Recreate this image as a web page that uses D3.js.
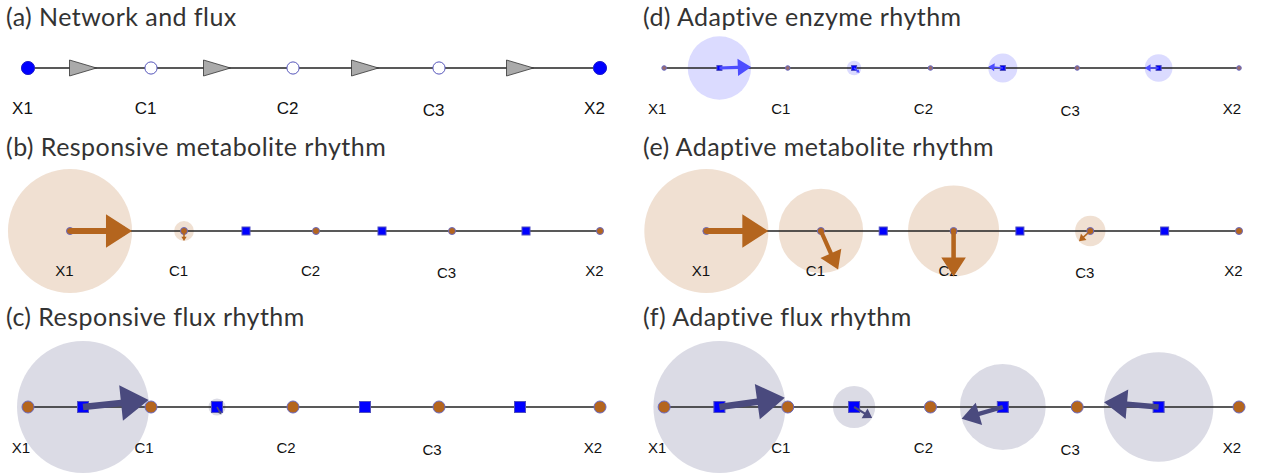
<!DOCTYPE html>
<html>
<head>
<meta charset="utf-8">
<script src="https://cdn.jsdelivr.net/npm/d3@7"></script>
<style>
body { margin: 0; background: #fff; }
</style>
</head>
<body>
<script>
// Node names of the linear pathway X1 -> C1 -> C2 -> C3 -> X2
var metabolites = ["X1", "C1", "C2", "C3", "X2"];
var reactions = ["R1", "R2", "R3", "R4"];

// Layout coordinates along the pathway (two layouts were used in the figure)
var layoutA_met = [28, 151, 293, 439, 600];
var layoutA_rxn = [83, 217, 365, 520];
var layoutB_met = [70, 184, 316, 452, 600];
var layoutB_rxn = [120, 246, 382, 526];

var titles = [
  "(a) Network and flux",
  "(b) Responsive metabolite rhythm",
  "(c) Responsive flux rhythm",
  "(d) Adaptive enzyme rhythm",
  "(e) Adaptive metabolite rhythm",
  "(f) Adaptive flux rhythm"
];

// Rhythm amplitude (relative) and phase (degrees, clockwise from east)
var b_amp = [0.94, 0.15, 0, 0, 0];
var b_phase = [0, 90, 0, 0, 0];
var c_amp = [1.0, 0.13, 0, 0];
var c_phase = [-6, 60, 0, 0];
var d_amp = [0.48, 0.11, 0.22, 0.21];
var d_phase = [-2, 40, 185, 180];
var e_amp = [0.94, 0.64, 0.69, 0.23, 0];
var e_phase = [0, 66, 90, 138, 0];
var f_amp = [1.0, 0.32, 0.65, 0.83];
var f_phase = [-8, 31, 164, 185];

var W = 1265, H = 475;
var svg = d3.select("body").append("svg").attr("width", W).attr("height", H);

// one x scale per column, one line position per row
var xScales = [
  d3.scaleLinear().domain([0, 600]).range([0, 600]),
  d3.scaleLinear().domain([0, 600]).range([636, 1239])
];
var rowY = [68, 231, 407];
var rScale = d3.scaleLinear().domain([0, 1]).range([0, 66]);

var brown = "#b4651e", slate = "#4a4a7e", blue = "#4d4dff";

var panels = [
  {title: titles[0], col: 0, row: 0, met: layoutA_met, rxn: layoutA_rxn, network: true, labelDx: -5.5, fs: 17},
  {title: titles[1], col: 0, row: 1, met: layoutB_met, rxn: layoutB_rxn, on: "met", amp: b_amp, phase: b_phase, color: brown, mr: 3.5, sq: 8, labelDx: -5.5, fs: 15},
  {title: titles[2], col: 0, row: 2, met: layoutA_met, rxn: layoutA_rxn, on: "rxn", amp: c_amp, phase: c_phase, color: slate, mr: 6, sq: 11, labelDx: -7, fs: 15},
  {title: titles[3], col: 1, row: 0, met: layoutA_met, rxn: layoutA_rxn, on: "rxn", amp: d_amp, phase: d_phase, color: blue, mr: 2.3, sq: 5, labelDx: -7, fs: 15},
  {title: titles[4], col: 1, row: 1, met: layoutB_met, rxn: layoutB_rxn, on: "met", amp: e_amp, phase: e_phase, color: brown, mr: 3.5, sq: 8, labelDx: -5.5, fs: 15},
  {title: titles[5], col: 1, row: 2, met: layoutA_met, rxn: layoutA_rxn, on: "rxn", amp: f_amp, phase: f_phase, color: slate, mr: 6, sq: 11, labelDx: -7, fs: 15}
];

function arrowPath(L) {
  var w = Math.max(0.8, 0.05 * L), h = 0.42 * L, hw = 0.27 * L;
  return "M0," + (-w) + "L" + (L - h) + "," + (-w) + "L" + (L - h) + "," + (-hw) +
    "L" + L + ",0L" + (L - h) + "," + hw + "L" + (L - h) + "," + w + "L0," + w + "Z";
}

panels.forEach(function(p) {
  var x = xScales[p.col], y0 = rowY[p.row];
  var g = svg.append("g");
  var titleX = p.col === 0 ? 6 : 643;
  var titleY = [26, 156, 326][p.row];

  g.append("text")
    .attr("x", titleX).attr("y", titleY)
    .attr("font-family", "Lato, sans-serif")
    .attr("font-size", 25)
    .attr("letter-spacing", 0.45)
    .attr("fill", "#333")
    .text(p.title);

  var anchors = p.on === "met" ? p.met : p.rxn;

  // rhythm circles
  if (!p.network) {
    g.selectAll("circle.amp").data(p.amp).enter().append("circle")
      .attr("class", "amp")
      .attr("cx", function(d, i) { return x(anchors[i]); })
      .attr("cy", y0)
      .attr("r", function(d) { return rScale(d); })
      .attr("fill", p.color).attr("fill-opacity", 0.2);
  }

  // pathway line
  g.append("line")
    .attr("x1", x(p.met[0])).attr("x2", x(p.met[p.met.length - 1]))
    .attr("y1", y0).attr("y2", y0)
    .attr("stroke", "#222").attr("stroke-width", 1.4);

  // labels
  var labelY = y0 + [46, 45, 46][p.row];
  g.selectAll("text.lab").data(metabolites).enter().append("text")
    .attr("class", "lab")
    .attr("x", function(d, i) { return x(p.met[i]) + p.labelDx; })
    .attr("y", function(d) { return labelY + (d === "C3" ? 2 : 0); })
    .attr("text-anchor", "middle")
    .attr("font-family", "Liberation Sans, Arial, sans-serif")
    .attr("font-size", p.fs)
    .attr("fill", "#111")
    .text(function(d) { return d; });

  if (p.network) {
    // reaction triangles showing flux direction
    g.selectAll("path.tri").data(reactions).enter().append("path")
      .attr("class", "tri")
      .attr("d", function(d, i) {
        var cx = x(p.rxn[i]);
        return "M" + (cx - 13.5) + "," + (y0 - 8) + "L" + (cx + 13.5) + "," + y0 + "L" + (cx - 13.5) + "," + (y0 + 8) + "Z";
      })
      .attr("fill", "#aaa").attr("stroke", "#333").attr("stroke-width", 0.8);
    g.selectAll("circle.node").data(metabolites).enter().append("circle")
      .attr("class", "node")
      .attr("cx", function(d, i) { return x(p.met[i]); })
      .attr("cy", y0)
      .attr("r", function(d) { return d[0] === "X" ? 6.6 : 6.1; })
      .attr("fill", function(d) { return d[0] === "X" ? "#0000ff" : "#fff"; })
      .attr("stroke", function(d) { return d[0] === "X" ? "#2222cc" : "#5555bb"; })
      .attr("stroke-width", 1);
    return;
  }

  // reaction squares
  g.selectAll("rect.rxn").data(reactions).enter().append("rect")
    .attr("class", "rxn")
    .attr("x", function(d, i) { return x(p.rxn[i]) - p.sq / 2; })
    .attr("y", y0 - p.sq / 2)
    .attr("width", p.sq).attr("height", p.sq)
    .attr("fill", "#0000ff").attr("stroke", "#5050c0").attr("stroke-width", 1);

  // metabolite dots
  g.selectAll("circle.met").data(metabolites).enter().append("circle")
    .attr("class", "met")
    .attr("cx", function(d, i) { return x(p.met[i]); })
    .attr("cy", y0)
    .attr("r", p.mr)
    .attr("fill", p.mr < 3 ? "#9a6a6a" : brown)
    .attr("stroke", "#6a6ac0").attr("stroke-width", 1);

  // phase arrows
  g.selectAll("path.arrow").data(p.amp).enter()
    .filter(function(d) { return d > 0; })
    .append("path")
    .attr("class", "arrow")
    .attr("transform", function(d) {
      var i = p.amp.indexOf(d);
      return "translate(" + x(anchors[i]) + "," + y0 + ") rotate(" + p.phase[i] + ")";
    })
    .attr("d", function(d) { return arrowPath(rScale(d)); })
    .attr("fill", p.color);
});
</script>
</body>
</html>
